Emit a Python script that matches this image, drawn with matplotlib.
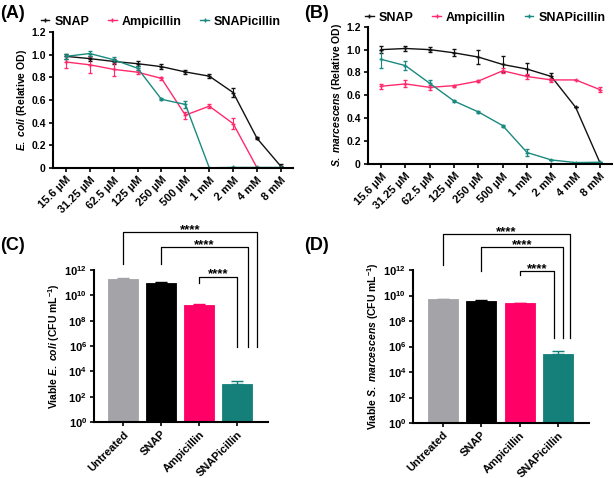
import numpy as np
import matplotlib.pyplot as plt
from matplotlib.lines import Line2D

plt.rcParams['font.family'] = ['Liberation Sans', 'DejaVu Sans']
plt.rcParams['font.weight'] = 'bold'
plt.rcParams['axes.labelweight'] = 'bold'
plt.rcParams['mathtext.fontset'] = 'custom'
plt.rcParams['mathtext.rm'] = 'Liberation Sans:bold'
plt.rcParams['mathtext.bf'] = 'Liberation Sans:bold'
plt.rcParams['mathtext.it'] = 'Liberation Sans:italic:bold'

# concentrations (x categories of A and B)
conc = ['15.6 µM', '31.25 µM', '62.5 µM', '125 µM', '250 µM', '500 µM',
        '1 mM', '2 mM', '4 mM', '8 mM']
series_names = ['SNAP', 'Ampicillin', 'SNAPicillin']

# (A) E. coli relative OD
ecoli_snap = [0.985, 0.965, 0.94, 0.92, 0.894, 0.847, 0.81, 0.665, 0.26, 0.012]
ecoli_snap_err = [0.02, 0.02, 0.02, 0.02, 0.02, 0.02, 0.02, 0.04, 0.01, 0.02]
ecoli_amp = [0.935, 0.91, 0.87, 0.845, 0.79, 0.465, 0.545, 0.39, 0.0, 0.0]
ecoli_amp_err = [0.05, 0.07, 0.06, 0.02, 0.01, 0.03, 0.02, 0.05, 0.0, 0.0]
ecoli_spc = [0.985, 1.01, 0.955, 0.88, 0.605, 0.56, 0.0, 0.003, 0.003, 0.003]
ecoli_spc_err = [0.02, 0.02, 0.02, 0.02, 0.01, 0.03, 0.0, 0.0, 0.0, 0.0]

# (B) S. marcescens relative OD
serr_snap = [1.0, 1.01, 1.0, 0.972, 0.935, 0.87, 0.83, 0.765, 0.495, 0.01]
serr_snap_err = [0.03, 0.02, 0.02, 0.03, 0.06, 0.07, 0.05, 0.03, 0.0, 0.0]
serr_amp = [0.68, 0.70, 0.67, 0.685, 0.725, 0.815, 0.765, 0.735, 0.735, 0.65]
serr_amp_err = [0.02, 0.03, 0.02, 0.01, 0.01, 0.02, 0.02, 0.02, 0.0, 0.02]
serr_spc = [0.915, 0.86, 0.705, 0.55, 0.455, 0.335, 0.10, 0.035, 0.012, 0.015]
serr_spc_err = [0.08, 0.04, 0.03, 0.01, 0.01, 0.01, 0.03, 0.0, 0.0, 0.0]

# (C) and (D) viable counts
treatments = ['Untreated', 'SNAP', 'Ampicillin', 'SNAPicillin']
ecoli_cfu = [2.0e11, 1.0e11, 1.7e9, 1.0e3]
ecoli_cfu_err = [0.3e11, 0.2e11, 0.3e9, 0.8e3]
serr_cfu = [5.0e9, 3.8e9, 2.5e9, 2.5e5]
serr_cfu_err = [0.6e9, 0.3e9, 0.2e9, 2.2e5]

line_colors = ['#111111', '#ff2a6d', '#1a8a80']
bar_colors = ['#a3a3a8', '#000000', '#ff0066', '#15807a']
log_labels = [r'10$^{%d}$' % p for p in range(0, 13, 2)]

fig = plt.figure(figsize=(6.14, 4.78), dpi=100)


def line_panel(rect, data, ylabel, legend_xy):
    ax = fig.add_axes(rect)
    x = np.arange(len(conc))
    for (vals, errs), c in zip(data, line_colors):
        ax.errorbar(x, vals, yerr=errs, color=c, lw=1.0, marker='+', ms=3,
                    mew=1.0, capsize=1.5, elinewidth=0.8)
    ax.set_xlim(-0.55, 9.5)
    ax.set_ylim(0, 1.2)
    ax.set_yticks([0, 0.2, 0.4, 0.6, 0.8, 1.0, 1.2])
    ax.set_yticklabels(['0', '0.2', '0.4', '0.6', '0.8', '1.0', '1.2'])
    ax.set_xticks(x)
    ax.set_xticklabels(conc, rotation=45, ha='right', rotation_mode='anchor')
    ax.tick_params(labelsize=8, width=1.2, length=3, pad=2)
    ax.tick_params(axis='y', labelsize=7.5)
    for s in ['top', 'right']:
        ax.spines[s].set_visible(False)
    for s in ['left', 'bottom']:
        ax.spines[s].set_linewidth(1.5)
    ax.set_ylabel(ylabel, fontsize=7.5, labelpad=1.5)
    handles = [Line2D([], [], color=c, lw=1.0, marker='+', ms=3, mew=1.0)
               for c in line_colors]
    ax.legend(handles, series_names, loc='center', bbox_to_anchor=legend_xy,
              ncol=3, frameon=False, fontsize=9, handlelength=0.7,
              handletextpad=0.4, columnspacing=1.5, borderaxespad=0)
    return ax


def bar_panel(rect, vals, errs, ylabel, brackets):
    ax = fig.add_axes(rect)
    x = np.arange(len(treatments))
    ax.bar(x, vals, width=0.78, color=bar_colors, edgecolor=bar_colors,
           linewidth=0.6)
    for xi, v, e, c in zip(x, vals, errs, bar_colors):
        ax.errorbar(xi, v, yerr=[[0], [e]], fmt='none', ecolor=c,
                    elinewidth=1.0, capsize=4, capthick=1.0)
    ax.set_yscale('log')
    ax.set_ylim(1, 1e12)
    ax.set_xlim(-0.77, 3.8)
    ax.set_yticks([10.0 ** p for p in range(0, 13, 2)])
    ax.set_yticklabels(log_labels)
    ax.minorticks_off()
    ax.set_xticks(x)
    ax.set_xticklabels(treatments, rotation=45, ha='right', rotation_mode='anchor')
    ax.tick_params(labelsize=8, width=1.2, length=3, pad=2)
    for s in ['top', 'right']:
        ax.spines[s].set_visible(False)
    for s in ['left', 'bottom']:
        ax.spines[s].set_linewidth(1.5)
    ax.set_ylabel(ylabel, fontsize=7.5, labelpad=1.5)
    # significance brackets: (x_left, x_right, y_top, y_left_end, y_right_end)
    for xl, xr, yt, yl, yr in brackets:
        ax.plot([xl, xl, xr, xr], [10 ** yl, 10 ** yt, 10 ** yt, 10 ** yr],
                color='black', lw=0.9, clip_on=False)
        ax.text((xl + xr) / 2, 10 ** (yt - 0.05), '****', ha='center',
                va='baseline', fontsize=9.5, clip_on=False)
    return ax


line_panel([0.086, 0.649, 0.391, 0.284],
           [(ecoli_snap, ecoli_snap_err), (ecoli_amp, ecoli_amp_err),
            (ecoli_spc, ecoli_spc_err)],
           r'$\it{E.\ coli}$ (Relative OD)', (0.45, 1.075))
line_panel([0.599, 0.657, 0.398, 0.287],
           [(serr_snap, serr_snap_err), (serr_amp, serr_amp_err),
            (serr_spc, serr_spc_err)],
           r'$\it{S.\ marcescens}$ (Relative OD)', (0.48, 1.066))

bar_panel([0.153, 0.117, 0.283, 0.318], ecoli_cfu, ecoli_cfu_err,
          r'Viable $\it{E.\ coli}$ (CFU mL$^{-1}$)',
          [(0.0, 3.52, 15.0, 12.5, 5.9),
           (1.0, 3.27, 13.8, 12.5, 5.9),
           (2.0, 3.0, 11.45, 10.97, 5.9)])
bar_panel([0.673, 0.115, 0.286, 0.32], serr_cfu, serr_cfu_err,
          r'Viable $\it{S.\ marcescens}$ (CFU mL$^{-1}$)',
          [(0.0, 3.31, 14.8, 12.4, 6.7),
           (1.0, 3.12, 13.8, 11.9, 6.7),
           (2.0, 2.9, 11.9, 11.6, 6.7)])

for lab, xx, yy in [('(A)', 0.0, 0.99), ('(B)', 0.495, 0.99),
                    ('(C)', 0.0, 0.505), ('(D)', 0.495, 0.505)]:
    fig.text(xx, yy, lab, fontsize=13, fontweight='bold', va='top', ha='left')

fig.savefig('out.png', dpi=100)
